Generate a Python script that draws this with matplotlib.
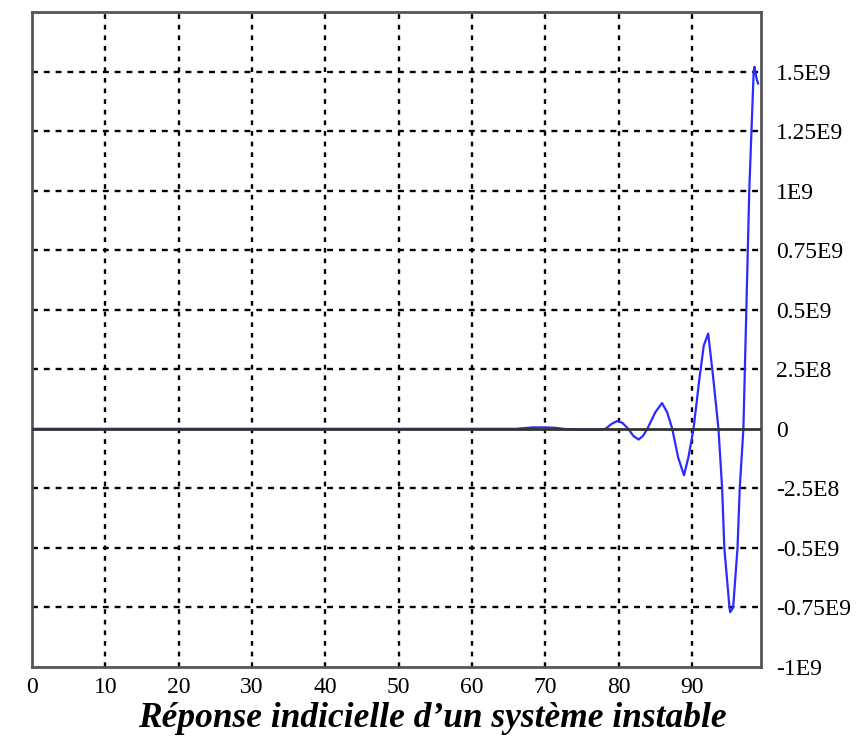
import matplotlib
matplotlib.use("Agg")
import matplotlib.pyplot as plt

# step response samples (time, amplitude in units of 1E9)
t = [0, 66, 68.3, 70, 71.4, 73, 75.0, 76.2, 77.5, 78.2, 79.0, 79.8, 80.5, 81.3,
     82.0, 82.7, 83.3, 83.9, 85.0, 85.9, 86.6, 87.3, 88.1, 88.9, 89.5, 90.2,
     91.0, 91.6, 92.2, 92.9, 93.6, 94.1, 94.4, 95.1, 95.2, 95.6, 96.2, 96.5,
     97.0, 97.4, 97.8, 98.1, 98.4, 98.5, 98.8, 99.0]
y = [0, 0, 0.006, 0.006, 0.004, -0.002, -0.004, -0.004, -0.003, 0.0, 0.02, 0.033,
     0.025, 0.0, -0.03, -0.045, -0.03, 0.0, 0.07, 0.108, 0.07, 0.0, -0.12, -0.195,
     -0.12, 0.0, 0.21, 0.35, 0.40, 0.21, 0.0, -0.25, -0.5, -0.75, -0.77, -0.75,
     -0.5, -0.25, 0.0, 0.5, 1.0, 1.25, 1.5, 1.52, 1.47, 1.45]

xticks = [0, 10, 20, 30, 40, 50, 60, 70, 80, 90]
yticks = [1.5, 1.25, 1.0, 0.75, 0.5, 0.25, 0, -0.25, -0.5, -0.75, -1.0]
ylabels = ["1.5E9", "1.25E9", "1E9", "0.75E9", "0.5E9", "2.5E8", "0",
           "-2.5E8", "-0.5E9", "-0.75E9", "-1E9"]
title = "Réponse indicielle d\u2019un système instable"

plt.rcParams['font.family'] = ['Liberation Serif', 'DejaVu Serif']

fig = plt.figure(figsize=(8.61, 7.38), dpi=100)
ax = fig.add_axes([32 / 861, 1 - 667 / 738, (761 - 32) / 861, (667 - 12) / 738])
ax.set_xlim(0, 99.4)
ax.set_ylim(-1.0, 1.75)

# dotted grid
for xv in xticks[1:]:
    ax.axvline(xv, color='black', linestyle=(0, (2, 2.5)), linewidth=1.7, zorder=1)
for yv in yticks:
    if yv not in (0, -1.0):
        ax.axhline(yv, color='black', linestyle=(0, (2.5, 2.5)), linewidth=1.7, zorder=1)

ax.plot(t, y, color='#2b2bff', linewidth=1.6, zorder=2)
# zero line sits over the flat part of the response
ax.axhline(0, color='#333333', linewidth=2, zorder=3)

ax.set_xticks(xticks)
ax.set_xticklabels([str(v) for v in xticks], fontsize=17)
ax.set_yticks(yticks)
ax.set_yticklabels(ylabels, fontsize=17)
ax.yaxis.tick_right()
ax.tick_params(axis='y', length=0, pad=11)
ax.tick_params(axis='x', length=0, pad=7)

for side in ['left', 'right', 'top', 'bottom']:
    ax.spines[side].set_color('#555555')
    ax.spines[side].set_linewidth(2)

fig.text(0.502, 0.027, title, fontsize=25.5, fontweight='bold', fontstyle='italic',
         ha='center', va='center')

fig.savefig('out.png', dpi=100, facecolor='white')
